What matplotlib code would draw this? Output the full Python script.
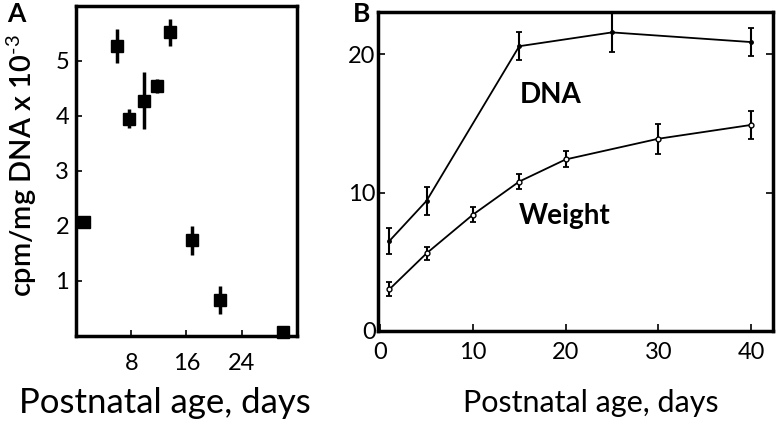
import matplotlib.pyplot as plt

# panel A: thymidine uptake
days_a = [1.2, 6.0, 7.7, 9.9, 11.7, 13.6, 16.8, 20.9, 30.0]
cpm_a = [2.08, 5.27, 3.95, 4.28, 4.54, 5.52, 1.74, 0.65, 0.07]
err_a = [0.0, 0.31, 0.17, 0.52, 0.13, 0.25, 0.26, 0.25, 0.0]
xticks_a = [8, 16, 24]
yticks_a = [1, 2, 3, 4, 5]

# panel B: DNA and weight growth
days_dna = [1, 5, 15, 25, 40]
dna = [6.5, 9.4, 20.6, 21.6, 20.9]
err_dna = [0.97, 0.99, 1.02, 1.39, 0.99]
days_w = [1, 5, 10, 15, 20, 30, 40]
weight = [3.0, 5.6, 8.4, 10.8, 12.4, 13.9, 14.9]
err_w = [0.5, 0.48, 0.55, 0.57, 0.58, 1.07, 1.03]
xticks_b = [0, 10, 20, 30, 40]
yticks_b = [0, 10, 20]

plt.rcParams["font.family"] = ["Lato", "DejaVu Sans"]
plt.rcParams["mathtext.fontset"] = "custom"
plt.rcParams["mathtext.rm"] = "Lato"
plt.rcParams["mathtext.it"] = "Lato:italic"
plt.rcParams["mathtext.bf"] = "Lato:bold"

fig = plt.figure(figsize=(7.84, 4.28), dpi=100)
axa = fig.add_axes([0.0969, 0.215, 0.2819, 0.771])
axb = fig.add_axes([0.4825, 0.2273, 0.5039, 0.7454])

axa.errorbar(days_a, cpm_a, yerr=err_a, fmt="s", color="black", ms=9,
             elinewidth=2.5, capsize=0, clip_on=False, zorder=3)
axa.set_xlim(0, 32)
axa.set_ylim(0, 6)
axa.set_xticks(xticks_a)
axa.set_yticks(yticks_a)
axa.tick_params(direction="in", length=4, width=1.2, labelsize=17)
axa.tick_params(axis="x", pad=12)
axa.tick_params(axis="y", pad=5)
for s in axa.spines.values():
    s.set_linewidth(2.5)

axb.errorbar(days_dna, dna, yerr=err_dna, fmt="-o", color="black", ms=2.5,
             lw=1.3, elinewidth=1.5, capsize=2.5, capthick=1.3)
axb.errorbar(days_w, weight, yerr=err_w, fmt="-o", color="black", ms=3.5,
             mfc="white", lw=1.3, elinewidth=1.5, capsize=2.5, capthick=1.3)
axb.set_xlim(-0.2, 42.4)
axb.set_ylim(0, 23.1)
axb.set_xticks(xticks_b)
axb.set_yticks(yticks_b)
axb.tick_params(direction="in", length=5, width=1.2, labelsize=17, right=True)
axb.tick_params(axis="x", pad=8)
axb.tick_params(axis="y", pad=2)
for s in axb.spines.values():
    s.set_linewidth(2.5)

axb.text(15.1, 16.5, "DNA", fontsize=20, fontweight="bold")
axb.text(15.0, 7.7, "Weight", fontsize=20, fontweight="bold")

fig.text(0.028, 0.612, "cpm/mg DNA x 10$^{\\text{-}3}$", rotation=90, fontsize=21,
         fontweight="semibold", ha="center", va="center")
fig.text(0.21, 0.058, "Postnatal age, days", fontsize=25, ha="center", va="center")
fig.text(0.754, 0.058, "Postnatal age, days", fontsize=22, ha="center", va="center")
fig.text(0.009, 0.948, "A", fontsize=19, fontweight="bold")
fig.text(0.45, 0.948, "B", fontsize=19, fontweight="bold")

fig.savefig("out.png", dpi=100)
